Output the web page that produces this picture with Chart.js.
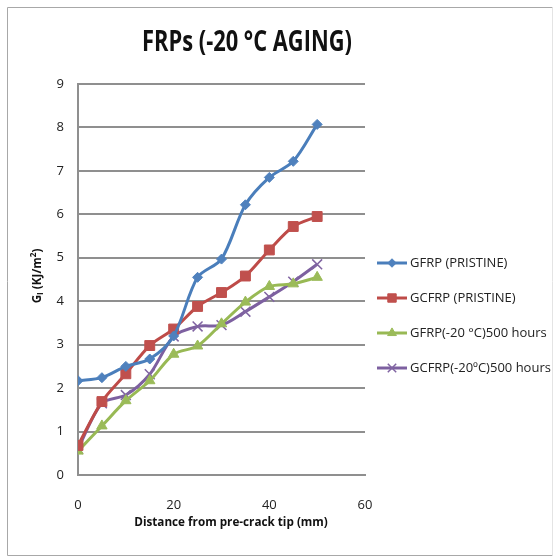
<!DOCTYPE html>
<html>
<head>
<meta charset="utf-8">
<script src="https://cdn.jsdelivr.net/npm/chart.js@4/dist/chart.umd.min.js"></script>
<style>
  html, body { margin: 0; padding: 0; background: #fff; }
  canvas { display: block; }
</style>
</head>
<body>
<canvas id="frpChart" width="555" height="560"></canvas>
<script>
// distance from pre-crack tip (mm)
const distance = [0, 5, 10, 15, 20, 25, 30, 35, 40, 45, 50];

const gfrpPristine = [2.17, 2.24, 2.5, 2.67, 3.2, 4.55, 4.97, 6.22, 6.85, 7.22, 8.07];
const gcfrpPristine = [0.68, 1.69, 2.33, 2.98, 3.36, 3.88, 4.2, 4.58, 5.18, 5.72, 5.95];
const gfrpAged = [0.55, 1.13, 1.71, 2.17, 2.78, 2.97, 3.48, 3.98, 4.34, 4.4, 4.55];
const gcfrpAged = [0.6, 1.65, 1.84, 2.32, 3.19, 3.42, 3.45, 3.76, 4.1, 4.45, 4.85];

const seriesLabels = ['GFRP (PRISTINE)', 'GCFRP (PRISTINE)', 'GFRP(-20 \u00B0C)500 hours', 'GCFRP(-20\u00BAC)500 hours'];
const xTicks = [0, 20, 40, 60];
const yTicks = [0, 1, 2, 3, 4, 5, 6, 7, 8, 9];

const FONT = '"Open Sans", "Liberation Sans", sans-serif';
const GRID_GREY = '#8f8f8f';

function toPoints(values) {
    return values.map((v, i) => ({ x: distance[i], y: v }));
}

const styles = [
    { line: '#4A7EBB', fill: '#4F81BD', pointStyle: 'rectRot', radius: 5 },
    { line: '#BE4B48', fill: '#C0504D', pointStyle: 'rect', radius: 7 },
    { line: '#98B954', fill: '#9BBB59', pointStyle: 'triangle', radius: 6 },
    { line: '#7D60A0', fill: '#8064A2', pointStyle: 'crossRot', radius: 7 }
];

const allValues = [gfrpPristine, gcfrpPristine, gfrpAged, gcfrpAged];

const datasets = allValues.map((vals, i) => ({
    label: seriesLabels[i],
    data: toPoints(vals),
    borderColor: styles[i].line,
    backgroundColor: styles[i].fill,
    pointBackgroundColor: styles[i].fill,
    pointBorderColor: styles[i].fill,
    pointBorderWidth: i === 3 ? 1.5 : 1,
    pointStyle: styles[i].pointStyle,
    pointRadius: styles[i].radius,
    borderWidth: 3,
    tension: 0.3,
    fill: false
}));

// draw text squeezed horizontally to mimic the narrow spreadsheet font
function fillNarrow(ctx, text, x, y, scaleX) {
    ctx.save();
    ctx.translate(x, y);
    ctx.scale(scaleX, 1);
    ctx.fillText(text, 0, 0);
    ctx.restore();
}

// frame, title, axis titles and legend drawn like the spreadsheet version
const decorPlugin = {
    id: 'decor',
    afterDraw(chart) {
        const ctx = chart.ctx;
        ctx.save();
        ctx.strokeStyle = '#a8a8a8';
        ctx.lineWidth = 1;
        ctx.beginPath();
        ctx.moveTo(552.5, 7.5);
        ctx.lineTo(7.5, 7.5);
        ctx.lineTo(7.5, 555.5);
        ctx.lineTo(552.5, 555.5);
        ctx.stroke();
        ctx.strokeStyle = '#e4e4e4';
        ctx.beginPath();
        ctx.moveTo(552.5, 7.5);
        ctx.lineTo(552.5, 555.5);
        ctx.stroke();

        ctx.fillStyle = '#111';
        ctx.textBaseline = 'middle';

        // title
        ctx.font = 'bold 28px ' + FONT;
        ctx.textAlign = 'center';
        fillNarrow(ctx, 'FRPs (-20 \u00B0C AGING)', 247, 43, 0.78);

        // x axis title
        ctx.font = 'bold 13px ' + FONT;
        fillNarrow(ctx, 'Distance from pre-crack tip (mm)', 231, 522, 0.9);

        // y axis title with subscript / superscript
        ctx.translate(37, 276);
        ctx.rotate(-Math.PI / 2);
        const parts = [
            { t: 'G', size: 13, dy: 0 },
            { t: 'I', size: 9, dy: 3 },
            { t: ' (KJ/m', size: 13, dy: 0 },
            { t: '2', size: 9, dy: -4 },
            { t: ')', size: 13, dy: 0 }
        ];
        let total = 0;
        parts.forEach(p => {
            ctx.font = 'bold ' + p.size + 'px ' + FONT;
            p.w = ctx.measureText(p.t).width * 0.9;
            total += p.w;
        });
        let px = -total / 2;
        ctx.textAlign = 'left';
        parts.forEach(p => {
            ctx.font = 'bold ' + p.size + 'px ' + FONT;
            fillNarrow(ctx, p.t, px, p.dy, 0.9);
            px += p.w;
        });
        ctx.restore();

        // legend: line with marker, then label
        ctx.save();
        ctx.font = '13px ' + FONT;
        ctx.textBaseline = 'middle';
        ctx.textAlign = 'left';
        chart.data.datasets.forEach((ds, i) => {
            const y = 263 + i * 35;
            ctx.strokeStyle = ds.borderColor;
            ctx.lineWidth = 3;
            ctx.beginPath();
            ctx.moveTo(377, y);
            ctx.lineTo(407, y);
            ctx.stroke();
            ctx.fillStyle = ds.pointBackgroundColor;
            ctx.strokeStyle = ds.pointBorderColor;
            ctx.lineWidth = ds.pointBorderWidth;
            Chart.helpers.drawPoint(ctx, {
                pointStyle: ds.pointStyle,
                radius: ds.pointRadius * 0.85,
                rotation: 0,
                borderWidth: ds.pointBorderWidth
            }, 392, y);
            ctx.fillStyle = '#222';
            ctx.fillText(ds.label, 410, y);
        });
        ctx.restore();
    }
};

const ctx = document.getElementById('frpChart').getContext('2d');
new Chart(ctx, {
    type: 'line',
    data: { datasets: datasets },
    plugins: [decorPlugin],
    options: {
        responsive: false,
        animation: false,
        layout: { padding: { left: 0, top: 84, right: 190, bottom: 0 } },
        plugins: {
            legend: { display: false },
            title: { display: false },
            tooltip: { enabled: false }
        },
        scales: {
            x: {
                type: 'linear',
                position: 'bottom',
                min: xTicks[0],
                max: xTicks[xTicks.length - 1],
                afterFit: scale => { scale.height = 560 - 475; },
                grid: { display: false },
                border: { display: true, color: GRID_GREY, width: 2 },
                ticks: {
                    stepSize: xTicks[1] - xTicks[0],
                    font: { family: FONT, size: 13 },
                    color: '#222',
                    padding: 14
                }
            },
            y: {
                type: 'linear',
                position: 'left',
                min: yTicks[0],
                max: yTicks[yTicks.length - 1],
                afterFit: scale => { scale.width = 78; },
                grid: {
                    display: true,
                    drawOnChartArea: true,
                    color: GRID_GREY,
                    lineWidth: 2,
                    tickLength: 0
                },
                border: { display: true, color: GRID_GREY, width: 2 },
                ticks: {
                    stepSize: yTicks[1] - yTicks[0],
                    font: { family: FONT, size: 13 },
                    color: '#222',
                    padding: 14
                }
            }
        }
    }
});
</script>
</body>
</html>
